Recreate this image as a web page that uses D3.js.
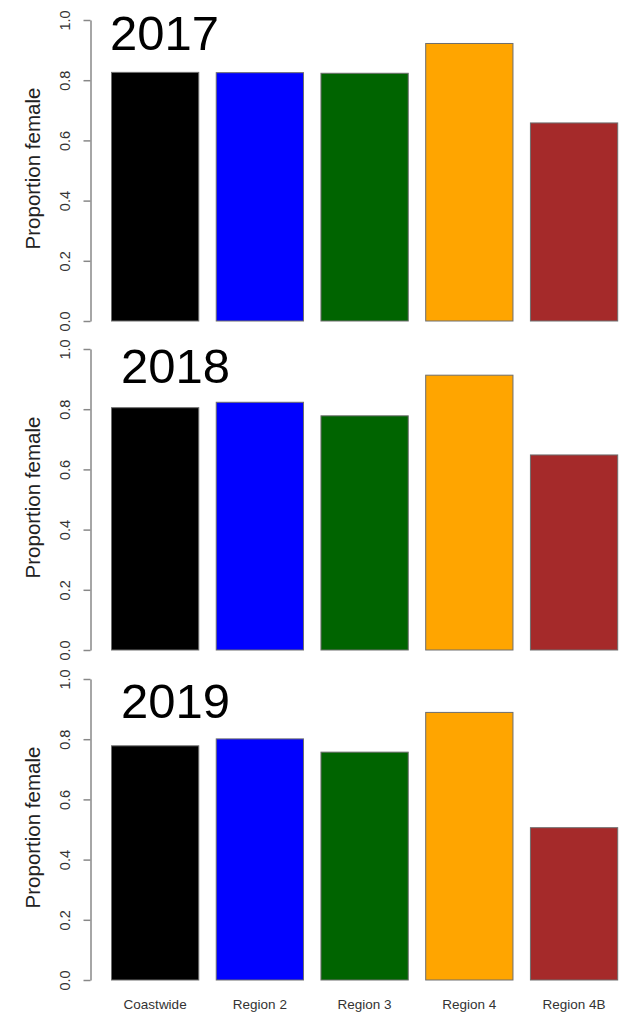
<!DOCTYPE html>
<html>
<head>
<meta charset="utf-8">
<script src="https://cdn.jsdelivr.net/npm/d3@7"></script>
<style>
  html, body { margin: 0; padding: 0; background: #fff; }
  svg { display: block; font-family: "Liberation Sans", Arial, sans-serif; }
</style>
</head>
<body>
<svg id="chart" width="632" height="1013"></svg>
<script>
const categories = ["Coastwide", "Region 2", "Region 3", "Region 4", "Region 4B"];
const colors = ["#000000", "#0000FF", "#006400", "#FFA500", "#A52A2A"];
const years = ["2017", "2018", "2019"];
const values2017 = [0.826, 0.825, 0.823, 0.922, 0.658];
const values2018 = [0.805, 0.823, 0.778, 0.913, 0.648];
const values2019 = [0.778, 0.801, 0.757, 0.889, 0.506];
const yTicks = [0.0, 0.2, 0.4, 0.6, 0.8, 1.0];
const yLabel = "Proportion female";

const seriesByYear = [values2017, values2018, values2019];

const svg = d3.select("#chart");

// panel layout: pixel position of 1.0 and 0.0
const panels = [
  { top: 20, bottom: 321, titleX: 110, titleY: 50 },
  { top: 349, bottom: 650, titleX: 121, titleY: 383 },
  { top: 679, bottom: 980, titleX: 121, titleY: 718 }
];

const x = d3.scaleBand()
  .domain(categories)
  .range([111.5, 617.7])
  .paddingInner(0.1667)
  .paddingOuter(0);

panels.forEach((p, i) => {
  const g = svg.append("g");
  const y = d3.scaleLinear().domain([0, 1]).range([p.bottom, p.top]);
  const vals = seriesByYear[i];

  // bars
  g.selectAll("rect.bar")
    .data(categories.map((c, j) => ({ c, v: vals[j], col: colors[j] })))
    .join("rect")
    .attr("class", "bar")
    .attr("x", d => x(d.c))
    .attr("width", x.bandwidth())
    .attr("y", d => y(d.v))
    .attr("height", d => y(0) - y(d.v))
    .attr("fill", d => d.col)
    .attr("stroke", "#6e6e6e")
    .attr("stroke-width", 1);

  // y axis
  const axis = d3.axisLeft(y)
    .tickValues(yTicks)
    .tickFormat(d3.format(".1f"))
    .tickSize(7)
    .tickSizeOuter(0);
  const ag = g.append("g")
    .attr("transform", "translate(90.5,0)")
    .call(axis);
  ag.select(".domain").attr("stroke", "#888").attr("stroke-width", 1.5);
  ag.selectAll(".tick line").attr("stroke", "#888").attr("stroke-width", 1.5);
  ag.selectAll(".tick text")
    .attr("x", null).attr("dy", null)
    .attr("transform", "translate(-25.5,0) rotate(-90)")
    .attr("text-anchor", "middle")
    .attr("dy", "0.36em")
    .attr("fill", "#333")
    .style("font-size", "14.5px")
    .style("font-family", "'Liberation Sans', Arial, sans-serif");

  // y label
  g.append("text")
    .attr("transform", `translate(33,${(p.top + p.bottom) / 2 - 2}) rotate(-90)`)
    .attr("text-anchor", "middle")
    .attr("dy", "0.36em")
    .attr("fill", "#222")
    .style("font-size", "20.5px")
    .text(yLabel);

  // year title
  g.append("text")
    .attr("x", p.titleX)
    .attr("y", p.titleY)
    .attr("fill", "#000")
    .style("font-size", "49px")
    .text(years[i]);
});

// category labels at bottom
svg.append("g")
  .selectAll("text")
  .data(categories)
  .join("text")
  .attr("x", d => x(d) + x.bandwidth() / 2)
  .attr("y", 1009)
  .attr("text-anchor", "middle")
  .attr("fill", "#333")
  .style("font-size", "13.5px")
  .text(d => d);
</script>
</body>
</html>
